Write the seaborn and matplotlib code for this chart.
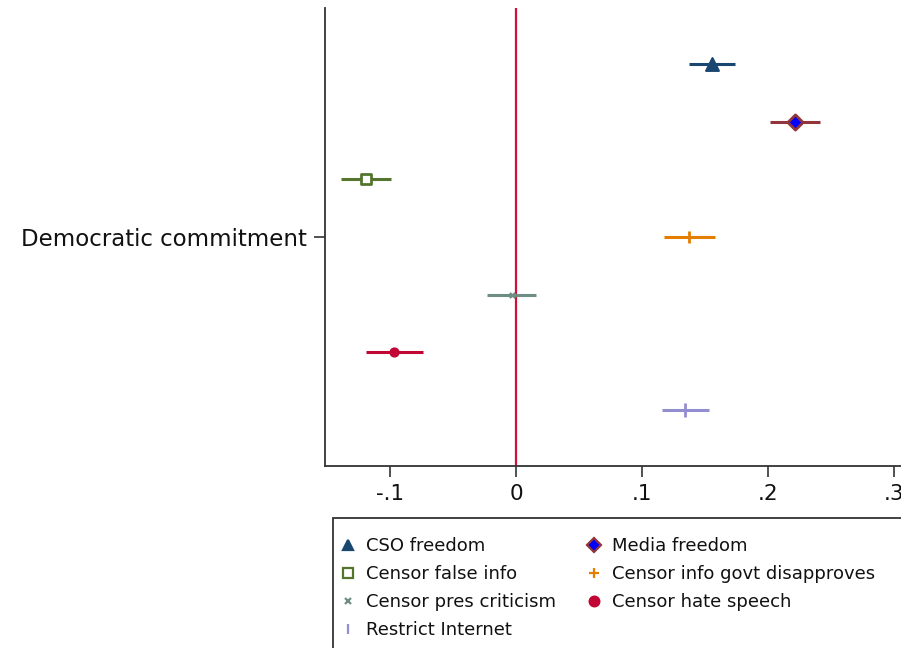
import matplotlib
matplotlib.use("Agg")
import matplotlib.pyplot as plt
from matplotlib.lines import Line2D
from matplotlib.patches import Rectangle
import seaborn as sns
import pandas as pd

# Coefficient estimates for "Democratic commitment" with 95% confidence bounds
outcomes = ["CSO freedom", "Media freedom", "Censor false info",
            "Censor info govt disapproves", "Censor pres criticism",
            "Censor hate speech", "Restrict Internet"]
coef = [0.155, 0.221, -0.119, 0.137, -0.003, -0.097, 0.134]
ci_low = [0.137, 0.201, -0.139, 0.117, -0.023, -0.119, 0.116]
ci_high = [0.174, 0.241, -0.099, 0.158, 0.016, -0.074, 0.153]
row_label = "Democratic commitment"
xticks = [-0.1, 0.0, 0.1, 0.2, 0.3]
xtick_labels = ["-.1", "0", ".1", ".2", ".3"]

line_colors = ["#1a476f", "#90353b", "#55752f", "#e37e00",
               "#6e8e84", "#c10534", "#938dd2"]
marker_face = ["#1a476f", "#0000ff", "white", "#e37e00",
               "#6e8e84", "#c10534", "#938dd2"]
markers = ["^", "D", "s", "+", "x", "o", "|"]
msizes = [85, 60, 50, 80, 14, 40, 90]
medge = [1.5, 2.0, 2.0, 2.0, 1.5, 1.0, 2.0]

sns.set_style("white")
plt.rcParams["font.family"] = ["DejaVu Sans"]
plt.rcParams["text.color"] = "#111111"
plt.rcParams["xtick.color"] = "#333333"
plt.rcParams["ytick.color"] = "#333333"
plt.rcParams["xtick.labelcolor"] = "#111111"
plt.rcParams["ytick.labelcolor"] = "#111111"

offsets = [-3, -2, -1, 0, 1, 2, 3]
df = pd.DataFrame({"outcome": outcomes, "coef": coef, "lo": ci_low,
                   "hi": ci_high, "pos": offsets})

fig = plt.figure(figsize=(9.01, 6.48), dpi=100)
ax = fig.add_axes([325 / 901, 182 / 648, 582 / 901, 458 / 648])

for i, r in df.iterrows():
    ax.hlines(r["pos"], r["lo"], r["hi"], color=line_colors[i], lw=2.2, zorder=2)

for i, r in df.iterrows():
    sub = df.iloc[[i]]
    sns.scatterplot(data=sub, x="coef", y="pos", ax=ax, marker=markers[i],
                    s=msizes[i], color=marker_face[i],
                    edgecolor=line_colors[i], linewidth=medge[i],
                    zorder=3, legend=False)

ax.axvline(0, color="#d0103a", lw=1.6, zorder=1)

ax.set_xlim(-0.1515, 0.310)
ax.set_ylim(3.97, -3.97)
ax.set_xticks(xticks)
ax.set_xticklabels(xtick_labels, fontsize=15.5)
ax.set_yticks([0])
ax.set_yticklabels([row_label], fontsize=16.5)
ax.set_xlabel("")
ax.set_ylabel("")
for side in ("top", "right"):
    ax.spines[side].set_visible(False)
for side in ("left", "bottom"):
    ax.spines[side].set_color("#333333")
    ax.spines[side].set_linewidth(1.3)
ax.tick_params(axis="both", which="both", length=8, width=1.2,
               direction="out", bottom=True, left=True, pad=5)

# Legend: two columns, filled row by row
handles = []
for i in range(len(outcomes)):
    ms = 5 if markers[i] == "x" else 7
    handles.append(Line2D([], [], linestyle="none", marker=markers[i],
                          markerfacecolor=marker_face[i],
                          markeredgecolor=line_colors[i],
                          color=line_colors[i], markersize=ms,
                          markeredgewidth=1.6))
order = [0, 2, 4, 6, 1, 3, 5]
leg = fig.legend([handles[k] for k in order], [outcomes[k] for k in order],
                 ncol=2, loc="upper left", bbox_to_anchor=(332 / 901, 1 - 530 / 648),
                 frameon=False, fontsize=13, handlelength=1.0, handletextpad=0.5,
                 columnspacing=1.6, labelspacing=0.55, borderaxespad=0)
fig.patches.append(Rectangle((333 / 901, -0.01), 0.7, 1 - 518 / 648 + 0.01,
                             transform=fig.transFigure, fill=False,
                             edgecolor="#333333", lw=1.3))

fig.savefig("out.png", dpi=100)
